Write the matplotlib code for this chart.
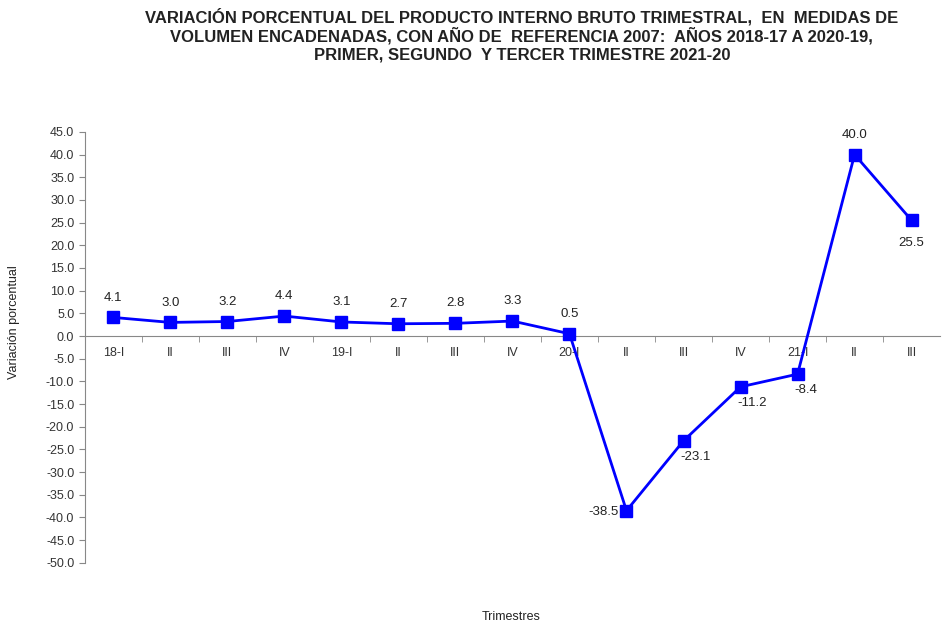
import numpy as np
import matplotlib
matplotlib.use("Agg")
import matplotlib.pyplot as plt

# Datos: variación porcentual del PIB trimestral
trimestres = ['18-I', 'II', 'III', 'IV', '19-I', 'II', 'III', 'IV',
              '20-I', 'II', 'III', 'IV', '21-I', 'II', 'III']
variacion = [4.1, 3.0, 3.2, 4.4, 3.1, 2.7, 2.8, 3.3,
             0.5, -38.5, -23.1, -11.2, -8.4, 40.0, 25.5]
# posición de la etiqueta de cada punto
pos_etiqueta = ['up', 'up', 'up', 'up', 'up', 'up', 'up', 'up',
                'up', 'left', 'right', 'right', 'right', 'up', 'down']

titulo = ['VARIACIÓN PORCENTUAL DEL PRODUCTO INTERNO BRUTO TRIMESTRAL,  EN  MEDIDAS DE',
          'VOLUMEN ENCADENADAS, CON AÑO DE  REFERENCIA 2007:  AÑOS 2018-17 A 2020-19,',
          'PRIMER, SEGUNDO  Y TERCER TRIMESTRE 2021-20']

plt.rcParams['font.family'] = ['Liberation Sans', 'DejaVu Sans']

fig = plt.figure(figsize=(9.42, 6.31), dpi=100)
ax = fig.add_axes([0.090, 0.108, 0.908, 0.683])

x = np.arange(len(trimestres))
ax.plot(x, variacion, color='#0000FF', lw=2, marker='s', ms=8,
        markerfacecolor='#0000FF', markeredgecolor='#0000FF', zorder=3)

offsets = {'up': (0, 10, 'center', 'bottom'),
           'down': (0, -12, 'center', 'top'),
           'left': (-6, -1, 'right', 'center'),
           'right': (-2, -7, 'left', 'top')}
for xi, v, p in zip(x, variacion, pos_etiqueta):
    dx, dy, ha, va = offsets[p]
    ax.annotate(f'{v:.1f}', (xi, v), xytext=(dx, dy), textcoords='offset points',
                ha=ha, va=va, fontsize=9.5, color='#222222')

ax.set_xlim(-0.5, len(trimestres) - 0.5)
ax.set_ylim(-50, 45)
ax.set_yticks(np.arange(-50, 46, 5))
ax.set_yticklabels([f'{t:.1f}' for t in np.arange(-50, 46, 5)])
ax.tick_params(axis='y', labelsize=9, colors='#888888', labelcolor='#333333',
               length=4, direction='out')

# eje x en cero, con marcas entre categorías
ax.spines['top'].set_visible(False)
ax.spines['right'].set_visible(False)
ax.spines['bottom'].set_position(('data', 0))
ax.spines['bottom'].set_color('#888888')
ax.spines['left'].set_color('#888888')
ax.set_xticks(x)
ax.set_xticklabels(trimestres)
ax.set_xticks(np.arange(0.5, len(trimestres) - 0.5, 1), minor=True)
ax.tick_params(axis='x', which='major', length=0, pad=8, labelsize=9,
               labelcolor='#333333')
ax.tick_params(axis='x', which='minor', length=4, color='#888888', direction='out')

fig.text(0.015, 0.49, 'Variación porcentual', rotation=90, ha='center',
         va='center', fontsize=9, color='#222222')
fig.text(0.543, 0.012, 'Trimestres', ha='center', va='bottom', fontsize=9,
         color='#222222')

for i, linea in enumerate(titulo):
    fig.text(0.554, 0.973 - i * 0.030, linea, ha='center', va='center',
             fontsize=12, fontweight='bold', color='#222222')

fig.savefig('out.png', dpi=100)
